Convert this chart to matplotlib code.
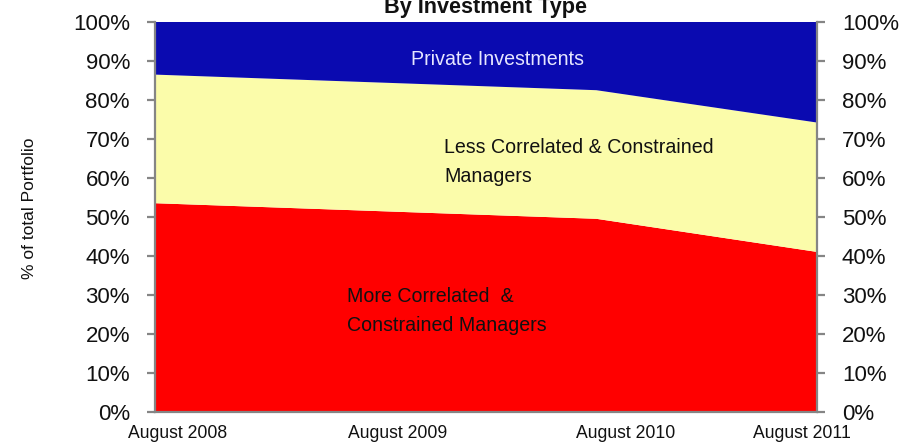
import matplotlib
matplotlib.use("Agg")
import matplotlib.pyplot as plt

# Portfolio allocation by investment type (% of total portfolio)
periods = ["August 2008", "August 2009", "August 2010", "August 2011"]
more_correlated = [53.5, 51.5, 49.5, 41.0]
less_correlated = [33.0, 33.0, 33.0, 33.2]
private_investments = [13.5, 15.5, 17.5, 25.8]
y_ticks = list(range(0, 101, 10))
y_tick_labels = [f"{v}%" for v in y_ticks]

# where each period label sits along the x axis
label_pos = [0.104, 1.101, 2.134, 2.932]

plt.rcParams['font.family'] = ['Liberation Sans', 'DejaVu Sans']

W, H = 914, 444
fig = plt.figure(figsize=(W / 100, H / 100), dpi=100)
left, right, top, bottom = 155, 817, 22, 411.7
ax = fig.add_axes([left / W, 1 - bottom / H, (right - left) / W, (bottom - top) / H])

x = list(range(len(periods)))
ax.stackplot(x, more_correlated, less_correlated, private_investments,
             colors=['#ff0000', '#fbfcaa', '#0a0ab0'], linewidth=0)
ax.set_xlim(0, len(periods) - 1)
ax.set_ylim(0, 100)

grey = '#858585'
for side in ('left', 'right', 'bottom'):
    ax.spines[side].set_color(grey)
    ax.spines[side].set_linewidth(1.6)
    ax.spines[side].set_zorder(5)
ax.spines['top'].set_visible(False)

ax.set_yticks(y_ticks, y_tick_labels)
ax.tick_params(axis='y', which='both', direction='out', length=5.8, width=1.6,
               color=grey, pad=12.2, labelsize=16, labelcolor='#111111',
               left=True, right=True, labelleft=True, labelright=True)

ax.set_xticks(label_pos, periods)
ax.tick_params(axis='x', length=0, pad=9.5, labelsize=12.7, labelcolor='#111111')

fig.text(30 / W, 1 - 208 / H, "% of total Portfolio", rotation=90,
         ha='center', va='center', fontsize=12.5, color='#111111')

fig.text(485 / W, 1 - 13 / H, "By Investment Type", ha='center', va='baseline',
         fontsize=15.6, fontweight='bold', color='#111111')


def px_text(px, py, s, **kw):
    ax.text((px - left) / (right - left), (bottom - py) / (bottom - top), s,
            transform=ax.transAxes, ha='left', va='baseline', fontsize=14.1, **kw)


px_text(411, 65, "Private Investments", color='#e6e6ff')
px_text(444, 153, "Less Correlated & Constrained", color='#111111')
px_text(444, 182, "Managers", color='#111111')
px_text(347, 302, "More Correlated  &", color='#111111')
px_text(347, 331, "Constrained Managers", color='#111111')

fig.savefig("out.png", dpi=100)
